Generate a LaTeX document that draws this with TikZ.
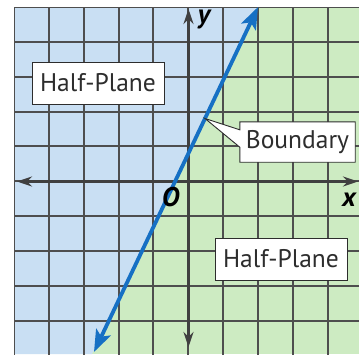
\documentclass[tikz,border=0pt]{standalone}
\usepackage{fontspec}
\setmainfont{PT Sans}
\usetikzlibrary{arrows.meta}
\definecolor{bluefill}{RGB}{201,223,243}
\definecolor{greenfill}{RGB}{205,235,194}
\definecolor{gridc}{RGB}{78,78,78}
\definecolor{axisc}{RGB}{64,64,64}
\definecolor{linec}{RGB}{22,112,196}
\definecolor{textc}{RGB}{45,45,45}
\tikzset{
  gridline/.style={draw=gridc, line width=2pt},
  axisline/.style={draw=axisc, line width=2.6pt, {Stealth[length=15pt,width=10pt]}-{Stealth[length=15pt,width=10pt]}},
  boundline/.style={draw=linec, line width=3.8pt, {Stealth[length=22pt,width=16pt,inset=5pt]}-{Stealth[length=22pt,width=16pt,inset=5pt]}},
  labelbox/.style={draw=textc, line width=0.9pt, fill=white, inner sep=0pt, minimum width=132pt, minimum height=42pt, text=textc, font=\fontsize{25.5}{30}\selectfont},
  axislabel/.style={text=black, inner sep=0pt, font=\fontsize{27}{30}\selectfont\bfseries\itshape},
}
\begin{document}
\begin{tikzpicture}[x=1pt,y=-1pt]
\useasboundingbox (0,0) rectangle (359,354);
\begin{scope}
  \clip (14,7) rectangle (359,354);
  \fill[greenfill] (14,7) rectangle (359,354);
  \fill[bluefill] (14,7) -- (258,7) -- (92,354) -- (14,354) -- cycle;
  \foreach \i in {0,...,10} {
    \draw[gridline] ({14+34.85*\i},6) -- ({14+34.85*\i},360);
    \draw[gridline] (13,{7+34.85*\i}) -- (365,{7+34.85*\i});
  }
\end{scope}
% axes
\coordinate (xl) at (17,181.5);
\coordinate (xr) at (358,181.5);
\coordinate (yt) at (188.5,9);
\coordinate (yb) at (188.5,347);
\draw[axisline] (xl) -- (xr);
\draw[axisline] (yt) -- (yb);
% boundary line
\coordinate (lt) at (258,7);
\coordinate (lb) at (94,352);
\draw[boundline] (lb) -- (lt);
% axis labels
\node[axislabel] (ylab) at (204,20) {y};
\node[axislabel] (xlab) at (349,200) {x};
\node[axislabel] (olab) at (170.5,197.5) {O};
% half-plane labels
\node[labelbox] (hp1) at (98,83) {Half-Plane};
\node[labelbox] (hp2) at (281,259) {Half-Plane};
% boundary callout
\coordinate (ptr) at (205,118.5);
\node[inner sep=0pt, minimum width=115pt, minimum height=40pt] (bd) at (297.5,142) {};
\draw[draw=textc, line width=0.9pt, fill=white]
  (bd.north west) -- (bd.north east) -- (bd.south east) -- (bd.south west)
  -- ([yshift=15pt]bd.south west) -- (ptr) -- ([yshift=-8pt]bd.north west) -- cycle;
\node[inner sep=0pt, text=textc, font=\fontsize{25.5}{30}\selectfont] (bdtext) at (bd.center) {Boundary};
\end{tikzpicture}
\end{document}
